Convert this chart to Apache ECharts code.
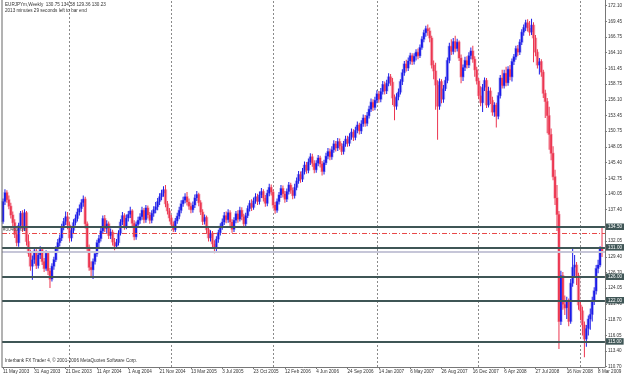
<!DOCTYPE html>
<html><head><meta charset="utf-8">
<script src="https://cdn.jsdelivr.net/npm/echarts@6/dist/echarts.min.js"></script>
<style>html,body{margin:0;padding:0;background:#fff}#c{width:625px;height:377px}</style>
</head><body><div id="c"></div>
<script>
// Weekly EURJPY bars, first bar = 11 May 2003
const opens = [
135.4,138.8,140.3,139.1,138.0,136.5,135.2,133.2,131.8,134.7,
136.8,134.2,136.9,132.0,130.0,127.8,128.9,130.4,127.9,129.7,
130.6,128.6,127.4,130.0,127.0,125.6,127.8,128.9,130.8,131.8,
132.6,134.5,135.4,136.2,134.8,132.6,133.9,135.2,135.9,137.0,
137.6,138.6,139.2,135.0,131.0,127.6,127.2,128.6,129.9,131.8,
132.5,133.8,135.9,134.2,135.0,133.0,133.6,131.9,131.2,131.8,
133.4,135.3,136.4,134.6,136.0,136.6,137.2,135.1,132.8,134.9,
135.6,136.2,137.3,135.7,137.7,136.5,135.6,136.8,137.4,137.9,
138.8,139.6,140.2,140.8,138.4,137.2,136.0,134.9,134.0,135.5,
136.3,137.3,138.4,139.0,139.6,138.7,138.0,137.4,138.2,139.4,
140.0,138.6,137.0,135.4,136.1,134.0,132.6,133.4,131.6,130.9,
132.4,133.5,134.6,135.3,136.4,135.7,136.9,135.3,134.1,135.6,
136.7,135.8,137.3,136.2,135.0,136.4,137.6,138.5,137.8,138.9,
139.6,138.8,139.9,140.5,139.4,138.5,140.2,141.2,140.4,138.2,
137.3,138.8,139.9,141.0,140.1,139.2,140.5,141.6,140.7,139.8,
141.2,142.3,143.4,142.6,143.9,145.0,144.1,145.5,146.4,145.3,
144.2,145.3,146.2,145.2,143.9,145.4,146.5,147.3,146.4,147.6,
148.6,147.9,149.0,148.2,147.3,148.6,149.4,148.7,149.8,150.6,
149.7,150.9,151.8,150.8,152.0,153.0,152.1,153.4,154.5,155.7,
154.8,156.0,157.1,156.2,157.5,158.7,157.6,158.9,160.0,159.1,
156.4,155.0,156.6,157.4,159.2,160.7,162.2,161.5,162.7,163.6,
162.6,163.5,164.2,163.6,165.0,166.4,167.5,168.2,167.8,166.6,
162.0,161.0,158.6,155.0,159.2,156.2,158.0,159.4,162.8,165.2,
164.3,166.0,164.8,165.9,163.2,160.0,161.6,162.8,162.0,163.6,
164.4,163.0,161.2,159.3,156.8,155.6,158.2,159.4,155.2,157.6,
156.0,154.0,155.2,153.3,156.8,159.8,158.5,160.6,159.0,161.3,
160.0,162.6,163.4,164.8,164.2,165.9,167.6,168.4,169.2,168.3,
167.6,168.8,166.6,164.2,162.0,162.6,160.8,157.2,155.8,153.4,
150.2,147.0,143.0,139.4,136.6,118.4,126.2,121.3,120.7,121.8,
118.4,124.9,127.6,128.0,126.2,121.2,120.2,117.8,115.4,117.2,
118.8,119.6,121.8,123.6,127.4,128.0,130.75];
const closes = [
138.8,140.3,139.1,138.0,136.5,135.2,133.2,131.8,134.7,136.8,
134.2,136.9,132.0,130.0,127.8,128.9,130.4,127.9,129.7,130.6,
128.6,127.4,130.0,127.0,125.6,127.8,128.9,130.8,131.8,132.6,
134.5,135.4,136.2,134.8,132.6,133.9,135.2,135.9,137.0,137.6,
138.6,139.2,135.0,131.0,127.6,127.2,128.6,129.9,131.8,132.5,
133.8,135.9,134.2,135.0,133.0,133.6,131.9,131.2,131.8,133.4,
135.3,136.4,134.6,136.0,136.6,137.2,135.1,132.8,134.9,135.6,
136.2,137.3,135.7,137.7,136.5,135.6,136.8,137.4,137.9,138.8,
139.6,140.2,140.8,138.4,137.2,136.0,134.9,134.0,135.5,136.3,
137.3,138.4,139.0,139.6,138.7,138.0,137.4,138.2,139.4,140.0,
138.6,137.0,135.4,136.1,134.0,132.6,133.4,131.6,130.9,132.4,
133.5,134.6,135.3,136.4,135.7,136.9,135.3,134.1,135.6,136.7,
135.8,137.3,136.2,135.0,136.4,137.6,138.5,137.8,138.9,139.6,
138.8,139.9,140.5,139.4,138.5,140.2,141.2,140.4,138.2,137.3,
138.8,139.9,141.0,140.1,139.2,140.5,141.6,140.7,139.8,141.2,
142.3,143.4,142.6,143.9,145.0,144.1,145.5,146.4,145.3,144.2,
145.3,146.2,145.2,143.9,145.4,146.5,147.3,146.4,147.6,148.6,
147.9,149.0,148.2,147.3,148.6,149.4,148.7,149.8,150.6,149.7,
150.9,151.8,150.8,152.0,153.0,152.1,153.4,154.5,155.7,154.8,
156.0,157.1,156.2,157.5,158.7,157.6,158.9,160.0,159.1,156.4,
155.0,156.6,157.4,159.2,160.7,162.2,161.5,162.7,163.6,162.6,
163.5,164.2,163.6,165.0,166.4,167.5,168.2,167.8,166.6,162.0,
161.0,158.6,155.0,159.2,156.2,158.0,159.4,162.8,165.2,164.3,
166.0,164.8,165.9,163.2,160.0,161.6,162.8,162.0,163.6,164.4,
163.0,161.2,159.3,156.8,155.6,158.2,159.4,155.2,157.6,156.0,
154.0,155.2,153.3,156.8,159.8,158.5,160.6,159.0,161.3,160.0,
162.6,163.4,164.8,164.2,165.9,167.6,168.4,169.2,168.3,167.6,
168.8,166.6,164.2,162.0,162.6,160.8,157.2,155.8,153.4,150.2,
147.0,143.0,139.4,136.6,118.4,126.2,121.3,120.7,121.8,118.4,
124.9,127.6,128.0,126.2,121.2,120.2,117.8,115.4,117.2,118.8,
119.6,121.8,123.6,127.4,128.0,130.75,130.23];
const lows = [
135.0,138.2,138.6,137.5,135.9,134.6,132.6,131.2,131.1,134.2,
133.6,133.8,131.3,129.4,127.0,125.5,128.2,127.3,127.4,129.0,
128.0,126.8,127.0,126.3,124.1,125.2,127.2,128.5,130.2,131.2,
132.1,133.9,134.8,134.1,132.0,132.0,133.4,134.7,135.4,136.4,
137.0,137.9,134.2,130.3,127.0,125.8,125.6,128.1,129.4,131.0,
132.0,133.3,133.6,133.3,132.4,132.4,131.3,130.5,130.7,131.3,
133.0,134.8,134.0,134.1,135.4,136.0,134.5,132.2,132.3,134.3,
135.0,135.7,135.1,135.2,135.9,135.0,135.1,136.2,136.8,137.3,
138.2,139.0,139.6,137.8,136.6,135.4,134.3,133.6,133.6,135.0,
135.8,136.8,137.9,138.5,138.1,137.4,136.8,136.9,137.7,138.9,
138.0,136.5,134.8,134.9,133.4,132.0,132.0,131.0,130.0,130.4,
131.8,133.0,134.0,134.8,135.1,135.2,134.6,133.5,133.6,135.1,
135.2,135.4,135.6,134.4,134.6,136.0,137.1,137.2,137.4,138.4,
138.2,138.3,139.4,138.8,137.9,138.0,139.7,139.8,137.6,136.7,
136.9,138.3,139.4,139.5,138.6,138.7,140.0,140.1,139.2,139.3,
140.7,141.8,142.0,142.1,143.4,143.5,143.6,145.0,144.7,143.6,
143.7,144.8,144.6,143.2,143.4,145.0,146.0,145.8,145.9,147.1,
147.3,147.4,147.6,146.7,146.8,148.1,148.1,148.2,149.3,149.1,
149.2,150.4,150.2,150.3,151.5,151.5,151.6,152.9,154.0,154.2,
154.3,155.5,155.6,155.7,157.0,157.0,157.1,158.4,158.5,155.2,
152.6,154.4,156.0,157.0,158.6,160.2,160.9,161.0,162.1,162.0,
162.1,162.8,163.0,163.2,164.6,165.9,166.8,167.0,165.9,161.4,
159.6,154.4,149.3,154.4,155.5,155.6,157.6,158.9,162.3,163.7,
163.8,164.2,164.3,162.7,158.9,159.3,161.0,161.4,161.5,163.0,
162.4,160.0,158.7,156.2,155.0,154.0,157.6,154.7,154.8,155.4,
153.4,153.2,151.4,152.8,156.3,158.0,158.0,158.4,158.5,159.4,
159.2,162.0,162.9,163.6,163.7,165.4,167.0,167.8,167.7,167.0,
167.1,162.5,163.5,161.4,160.4,160.0,156.4,153.0,150.4,147.6,
145.8,142.4,138.2,133.8,113.7,117.8,120.4,119.5,118.8,117.6,
118.0,124.3,125.9,124.6,120.4,118.6,116.0,112.3,114.1,116.0,
117.0,118.4,121.2,123.0,126.6,127.6,129.36];
const highs = [
139.3,140.9,140.7,139.8,138.6,137.1,135.8,133.9,135.2,137.2,
137.3,137.5,137.2,133.2,130.6,129.6,130.9,131.0,130.2,131.2,
131.0,129.2,130.5,130.4,127.5,128.3,129.4,131.2,132.4,133.2,
135.0,136.0,137.1,137.0,135.3,134.4,135.8,136.6,137.6,138.3,
139.2,139.8,139.6,135.4,131.5,128.6,129.1,130.4,132.3,133.1,
134.3,136.4,136.5,135.6,135.4,134.2,134.0,132.6,132.4,133.9,
135.8,137.0,136.8,136.6,137.2,137.9,137.5,135.6,135.4,136.2,
136.8,137.9,137.7,138.2,138.1,137.0,137.3,138.0,138.7,139.4,
140.2,140.8,141.4,141.6,138.9,137.7,136.5,135.4,136.0,136.9,
137.9,139.0,139.6,140.2,140.4,139.3,138.6,138.8,140.0,140.6,
140.3,139.0,137.5,136.6,136.4,134.5,133.9,133.8,132.2,132.9,
134.0,135.1,135.9,137.0,137.1,137.5,137.3,135.8,136.1,137.2,
137.3,137.9,137.8,136.7,136.9,138.1,139.0,139.2,139.5,140.2,
140.1,140.5,141.1,140.9,139.9,140.8,141.8,141.7,140.8,138.7,
139.3,140.4,141.6,141.5,140.6,141.0,142.1,142.0,141.2,141.8,
142.9,144.0,143.9,144.5,145.6,145.5,146.1,147.0,146.9,145.8,
145.8,146.7,146.6,145.7,145.9,147.1,147.9,147.8,148.2,149.2,
149.1,149.6,149.5,148.7,149.1,150.0,150.0,150.4,151.2,151.1,
151.5,152.4,152.2,152.6,153.6,153.5,154.0,155.1,156.3,156.2,
156.6,157.7,157.6,158.1,159.3,159.2,159.5,160.6,160.5,159.8,
157.0,157.2,158.0,159.6,161.3,162.7,162.9,163.3,164.1,164.0,
164.0,164.7,164.8,165.5,166.9,168.0,168.7,168.9,168.4,167.0,
162.8,162.4,159.4,159.7,159.6,158.6,160.0,163.3,165.8,166.4,
166.6,167.0,166.5,166.2,163.8,162.1,163.4,163.5,164.2,165.0,
165.3,163.5,161.7,159.8,158.4,158.8,159.9,159.8,158.3,158.2,
156.6,155.7,155.6,157.4,160.3,161.2,161.2,161.7,161.8,162.0,
163.1,163.9,165.3,165.4,166.4,168.1,168.9,169.7,169.8,169.5,
169.9,169.3,167.1,164.7,163.2,163.0,161.2,157.8,156.4,154.9,
151.2,148.2,144.2,141.6,137.2,127.0,126.8,122.8,122.6,122.3,
125.6,130.9,129.7,128.5,126.7,121.8,120.9,118.4,117.8,119.4,
120.6,122.6,124.2,128.0,128.9,131.2,134.58];

const priceTicks = ['110.70','113.40','116.05','118.70','121.40','124.05','126.70','129.40','132.05',
  '137.40','140.05','142.75','145.40','148.05','150.75','153.45','156.10','158.75','161.45','164.10',
  '166.75','169.45','172.10'];
const levelPrices = [134.50, 131.00, 126.00, 122.00, 115.00];
const bidPrice = 130.23;
const orderPrice = 133.35;
const orderText = '#30469 sell';
const gridBarIdx = [34, 86, 138, 191, 243, 295];
const headerLine1 = 'EURJPYm,Weekly  130.75 134.58 129.36 130.23';
const headerLine2 = '2013 minutes 29 seconds left to bar end';
const footer = 'Interbank FX Trader 4, \u00a9 2001-2006 MetaQuotes Software Corp.';

const MON = ['Jan','Feb','Mar','Apr','May','Jun','Jul','Aug','Sep','Oct','Nov','Dec'];
const cats = [];
const d0 = Date.UTC(2003, 4, 11);
for (let i = 0; i < opens.length + 1; i++) {
  const d = new Date(d0 + i * 7 * 86400000);
  cats.push(d.getUTCDate() + ' ' + MON[d.getUTCMonth()] + ' ' + d.getUTCFullYear());
}
const bars = opens.map((o, i) => [i, o, closes[i], lows[i], highs[i]]);
const tickValues = priceTicks.map(Number);
const lastLabelIdx = opens.length - 3;

const FONT = 'Liberation Sans';
const FS = 4.6;
const BLUE = '#1a1ae8';
const RED = '#ec3650';
const BLUE_H = '#c2c2f2';
const RED_H = '#f6c0cc';
const LEVEL = '#3f5656';

function haloItem(params, api) {
  const o = api.value(1), c = api.value(2);
  const pO = api.coord([api.value(0), o]), pC = api.coord([api.value(0), c]);
  const top = Math.min(pO[1], pC[1]);
  const bh = Math.max(Math.abs(pO[1] - pC[1]), 1);
  return {type: 'rect', shape: {x: pO[0] - 1.8, y: top - 0.5, width: 3.6, height: bh + 1},
    style: {fill: c >= o ? BLUE_H : RED_H}};
}
function candleItem(params, api) {
  const i = api.value(0), o = api.value(1), c = api.value(2), l = api.value(3), h = api.value(4);
  const pO = api.coord([i, o]), pC = api.coord([i, c]), pL = api.coord([i, l]), pH = api.coord([i, h]);
  const col = c >= o ? BLUE : RED;
  const cx = pO[0];
  const top = Math.min(pO[1], pC[1]);
  const bh = Math.max(Math.abs(pO[1] - pC[1]), 1);
  return {type: 'group', children: [
    {type: 'rect', shape: {x: cx - 0.5, y: pH[1], width: 1, height: Math.max(pL[1] - pH[1], 1)}, style: {fill: col}},
    {type: 'rect', shape: {x: cx - 0.9, y: top, width: 1.8, height: bh}, style: {fill: col}}
  ]};
}

const mlData = [];
gridBarIdx.forEach(k => mlData.push({
  xAxis: cats[k], lineStyle: {color: '#8a8a8a', type: [2, 2], width: 1}, label: {show: false}
}));
mlData.push({
  yAxis: orderPrice, lineStyle: {color: '#e84848', type: [5, 2, 1, 2], width: 1},
  label: {show: true, position: 'insideStartTop', formatter: orderText, color: '#555', fontSize: FS, fontFamily: FONT, distance: 1}
});
mlData.push({
  yAxis: bidPrice, lineStyle: {color: '#c6c6d8', type: 'solid', width: 2},
  label: {show: false}
});
levelPrices.forEach(p => mlData.push({
  yAxis: p, lineStyle: {color: LEVEL, type: 'solid', width: 2},
  label: {show: true, position: 'end', formatter: p.toFixed(2), color: '#fff', backgroundColor: LEVEL,
    fontSize: FS, fontFamily: FONT, padding: [1, 2, 0.5, 2], distance: 1}
}));
mlData.push({
  yAxis: bidPrice, lineStyle: {opacity: 0},
  label: {show: true, position: 'end', formatter: bidPrice.toFixed(2), color: '#fff', backgroundColor: '#111',
    fontSize: FS, fontFamily: FONT, padding: [1, 2, 0.5, 2], distance: 1}
});

const chart = echarts.init(document.getElementById('c'), null, {renderer: 'canvas'});
chart.setOption({
  animation: false,
  backgroundColor: '#fff',
  grid: {left: 0.5, right: 19.6, top: 0, bottom: 10, show: false},
  xAxis: {
    type: 'category', data: cats, boundaryGap: true,
    axisLine: {show: true, lineStyle: {color: '#777', width: 1}},
    axisTick: {show: true, alignWithLabel: true, length: 2,
      interval: (i) => i % 16 === 0 && i <= lastLabelIdx, lineStyle: {color: '#777'}},
    axisLabel: {interval: (i) => i % 16 === 0 && i <= lastLabelIdx, align: 'left', fontSize: FS,
      color: '#333', margin: 2, fontFamily: FONT},
    splitLine: {show: false}
  },
  yAxis: {
    type: 'value', position: 'right', min: 110.65, max: 173.07, scale: true,
    axisLine: {show: true, lineStyle: {color: '#777', width: 1}},
    axisTick: {show: true, length: 2, customValues: tickValues, lineStyle: {color: '#777'}},
    axisLabel: {customValues: tickValues, formatter: (v) => Number(v).toFixed(2), fontSize: FS,
      color: '#333', margin: 3, fontFamily: FONT},
    splitLine: {show: false}
  },
  graphic: [
    {type: 'line', shape: {x1: 2, y1: 0, x2: 2, y2: 367}, style: {stroke: '#666', lineWidth: 1}, z: 10},
    {type: 'text', left: 5, top: 2, style: {text: headerLine1, fontSize: FS, fontFamily: FONT, fill: '#333'}, z: 10},
    {type: 'text', left: 5, top: 8, style: {text: headerLine2, fontSize: FS, fontFamily: FONT, fill: '#333'}, z: 10},
    {type: 'text', left: 5, top: 358, style: {text: footer, fontSize: FS, fontFamily: FONT, fill: '#333'}, z: 10}
  ],
  series: [
    {type: 'custom', name: 'halo', data: bars, encode: {x: 0, y: [1, 2, 3, 4]}, renderItem: haloItem, z: 1, silent: true,
      markLine: {silent: true, symbol: ['none', 'none'], animation: false, precision: 2, z: 0,
        data: gridBarIdx.map(k => ({xAxis: cats[k], lineStyle: {color: '#8a8a8a', type: [2, 2], width: 1}, label: {show: false}}))}},
    {type: 'custom', name: 'bars', data: bars, encode: {x: 0, y: [1, 2, 3, 4]}, renderItem: candleItem, z: 2, silent: true,
      markLine: {silent: true, symbol: ['none', 'none'], animation: false, precision: 2,
        data: mlData.slice(gridBarIdx.length)}}
  ]
});
</script></body></html>
